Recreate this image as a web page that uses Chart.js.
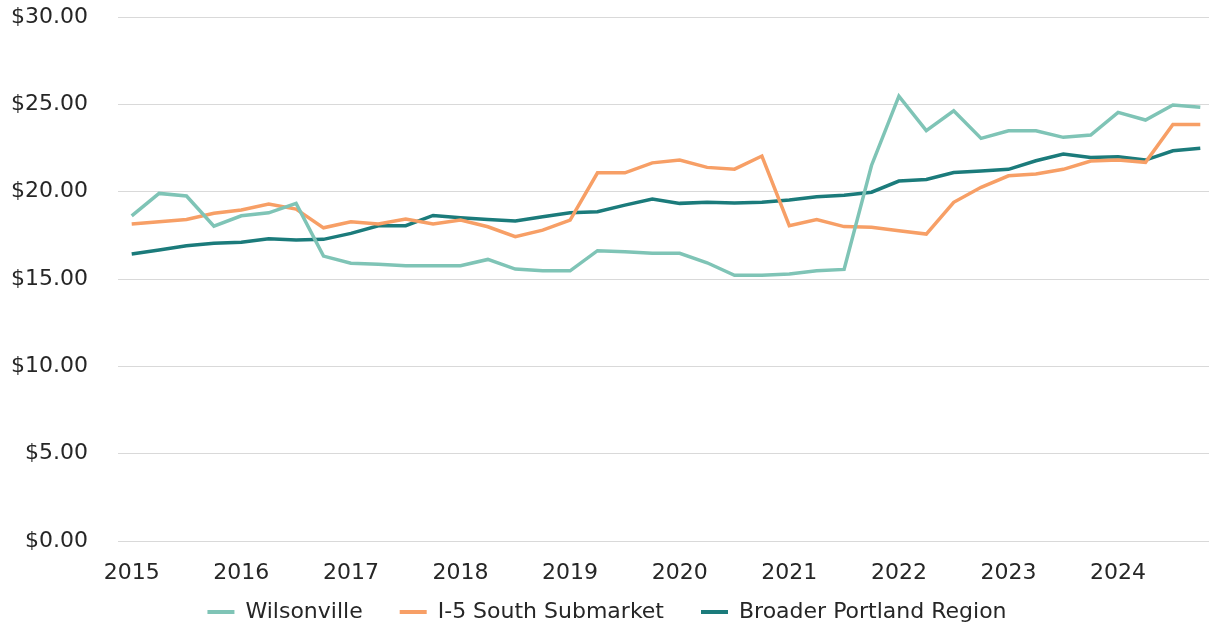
<!DOCTYPE html>
<html>
<head>
<meta charset="utf-8">
<script src="https://cdn.jsdelivr.net/npm/chart.js@4"></script>
<style>
    html, body { margin: 0; padding: 0; background: #fff; overflow: hidden; }
    #wrap { width: 1214px; height: 633px; }
</style>
</head>
<body>
<div id="wrap"><canvas id="rentChart"></canvas></div>
<script>
// quarters 2015 Q1 .. 2024 Q4
const years = ['2015', '2016', '2017', '2018', '2019', '2020', '2021', '2022', '2023', '2024'];
const quarters = [];
years.forEach(y => ['Q1', 'Q2', 'Q3', 'Q4'].forEach(q => quarters.push(y + ' ' + q)));

const wilsonville = [
    18.62, 19.90, 19.75, 18.03, 18.62, 18.79, 19.33, 16.31, 15.90, 15.84,
    15.76, 15.76, 15.76, 16.12, 15.57, 15.47, 15.47, 16.62, 16.56, 16.47,
    16.47, 15.93, 15.21, 15.21, 15.28, 15.47, 15.55, 21.50, 25.47, 23.49,
    24.63, 23.05, 23.49, 23.49, 23.11, 23.24, 24.54, 24.10, 24.96, 24.83
];
const i5South = [
    18.15, 18.28, 18.41, 18.76, 18.95, 19.29, 19.00, 17.93, 18.28, 18.15,
    18.43, 18.15, 18.37, 17.99, 17.42, 17.80, 18.37, 21.08, 21.08, 21.65,
    21.81, 21.39, 21.29, 22.04, 18.05, 18.41, 18.00, 17.96, 17.76, 17.57,
    19.39, 20.25, 20.91, 21.01, 21.28, 21.75, 21.81, 21.68, 23.85, 23.85
];
const portland = [
    16.43, 16.66, 16.90, 17.04, 17.11, 17.30, 17.23, 17.27, 17.61, 18.05,
    18.05, 18.64, 18.51, 18.41, 18.32, 18.56, 18.79, 18.85, 19.23, 19.58,
    19.33, 19.40, 19.35, 19.40, 19.52, 19.71, 19.80, 19.97, 20.61, 20.70,
    21.10, 21.18, 21.28, 21.77, 22.15, 21.96, 22.00, 21.81, 22.34, 22.48
];

const seriesNames = ['Wilsonville', 'I-5 South Submarket', 'Broader Portland Region'];
const colors = ['#7fc4b6', '#f79f66', '#1b7b7b'];

const font = { family: 'DejaVu Sans', size: 22 };

const ctx = document.getElementById('rentChart').getContext('2d');
new Chart(ctx, {
    type: 'line',
    data: {
        labels: quarters,
        datasets: [wilsonville, i5South, portland].map((d, i) => ({
            label: seriesNames[i],
            data: d,
            borderColor: colors[i],
            backgroundColor: colors[i],
            borderWidth: 3.5,
            pointRadius: 0,
            tension: 0
        }))
    },
    options: {
        responsive: true,
        maintainAspectRatio: false,
        animation: false,
        layout: { padding: { top: 17, bottom: 0 } },
        plugins: {
            tooltip: { enabled: false },
            legend: {
                position: 'bottom',
                labels: {
                    font: font,
                    color: '#262626',
                    boxWidth: 27,
                    boxHeight: 4,
                    padding: 37,
                    generateLabels: chart => chart.data.datasets.map((ds, i) => ({
                        text: ds.label,
                        fillStyle: ds.borderColor,
                        strokeStyle: ds.borderColor,
                        lineWidth: 0,
                        fontColor: '#262626',
                        datasetIndex: i
                    }))
                }
            }
        },
        scales: {
            x: {
                offset: true,
                afterFit: s => { s.height = 23; },
                grid: { display: false, drawTicks: false },
                border: { display: false },
                ticks: {
                    font: font,
                    color: '#262626',
                    autoSkip: false,
                    maxRotation: 0,
                    // mirrored labels are not clipped to the (short) axis box
                    mirror: true,
                    padding: -45,
                    callback: (v, i) => i % 4 === 0 ? quarters[i].slice(0, 4) : null
                }
            },
            y: {
                min: 0,
                max: 30,
                afterFit: s => { s.width = 118; },
                grid: { color: '#d9d9d9', lineWidth: 1, drawTicks: true, tickLength: 30, tickColor: 'rgba(0,0,0,0)' },
                border: { display: false },
                ticks: {
                    stepSize: 5,
                    font: font,
                    color: '#262626',
                    padding: 0,
                    callback: v => '$' + v.toFixed(2)
                }
            }
        }
    }
});
</script>
</body>
</html>
